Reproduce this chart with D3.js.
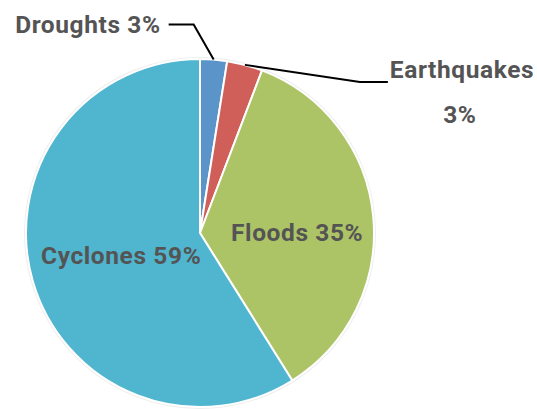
<!DOCTYPE html>
<html>
<head>
<meta charset="utf-8">
<script src="https://cdn.jsdelivr.net/npm/d3@7"></script>
<style>
  html, body { margin: 0; padding: 0; background: #fff; }
  svg { display: block; }
  text { font-family: Roboto, "Liberation Sans", sans-serif; font-weight: 700; fill: #545454; letter-spacing: 0.6px; }
</style>
</head>
<body>
<svg id="chart" width="537" height="409"></svg>
<script>
// ---- data ----
const categories = ["Droughts", "Earthquakes", "Floods", "Cyclones"];
const values = [2.5, 3.3, 35.3, 58.9];
const percentLabels = ["3%", "3%", "35%", "59%"];
const colors = ["#5A94C8", "#CF5F58", "#ADC466", "#50B6D0"];

// ---- layout ----
const W = 537, H = 409;
const cx = 200, cy = 233, R = 174;
const FS = 24.5;
const svg = d3.select("#chart");
const g = svg.append("g").attr("transform", `translate(${cx},${cy})`);

const pie = d3.pie().sort(null).value(d => d.value).startAngle(0).endAngle(2 * Math.PI);
const data = categories.map((c, i) => ({ name: c, value: values[i], pct: percentLabels[i], color: colors[i] }));
const arcs = pie(data);
const arc = d3.arc().innerRadius(0).outerRadius(R);
const edgeArc = d3.arc().innerRadius(R).outerRadius(R);

// faint outer ring
g.append("circle").attr("r", R + 1).attr("fill", "none").attr("stroke", "#eeeeee").attr("stroke-width", 2);

g.selectAll("path.slice").data(arcs).enter().append("path")
  .attr("class", "slice")
  .attr("d", arc)
  .attr("fill", d => d.data.color)
  .attr("stroke", "#fff")
  .attr("stroke-width", 2)
  .attr("stroke-linejoin", "round");

// leader lines for small slices
function leader(d, elbow, end) {
  const p = edgeArc.centroid(d);
  const pts = [[p[0], p[1]], [p[0] + elbow[0], p[1] + elbow[1]], [p[0] + elbow[0] + end, p[1] + elbow[1]]];
  g.append("path")
    .attr("d", d3.line()(pts))
    .attr("fill", "none")
    .attr("stroke", "#000")
    .attr("stroke-width", 2);
  return pts[2];
}

const dEnd = leader(arcs[0], [-20, -35], -25);
g.append("text")
  .attr("x", dEnd[0] - 8).attr("y", dEnd[1] + 8)
  .attr("text-anchor", "end")
  .attr("font-size", FS)
  .text(`${arcs[0].data.name} ${arcs[0].data.pct}`);

const eEnd = leader(arcs[1], [115, 17], 28);
g.append("text")
  .attr("x", eEnd[0] + 2).attr("y", eEnd[1] - 4)
  .attr("text-anchor", "start")
  .attr("font-size", FS)
  .text(arcs[1].data.name);
g.append("text")
  .attr("x", eEnd[0] + 72).attr("y", eEnd[1] + 41)
  .attr("text-anchor", "middle")
  .attr("font-size", FS)
  .text(arcs[1].data.pct);

// in-slice labels
g.append("text")
  .attr("x", 31).attr("y", 8)
  .attr("text-anchor", "start")
  .attr("font-size", FS)
  .text(`${arcs[2].data.name} ${arcs[2].data.pct}`);

g.append("text")
  .attr("x", -159).attr("y", 31)
  .attr("text-anchor", "start")
  .attr("font-size", FS)
  .text(`${arcs[3].data.name} ${arcs[3].data.pct}`);
</script>
</body>
</html>
